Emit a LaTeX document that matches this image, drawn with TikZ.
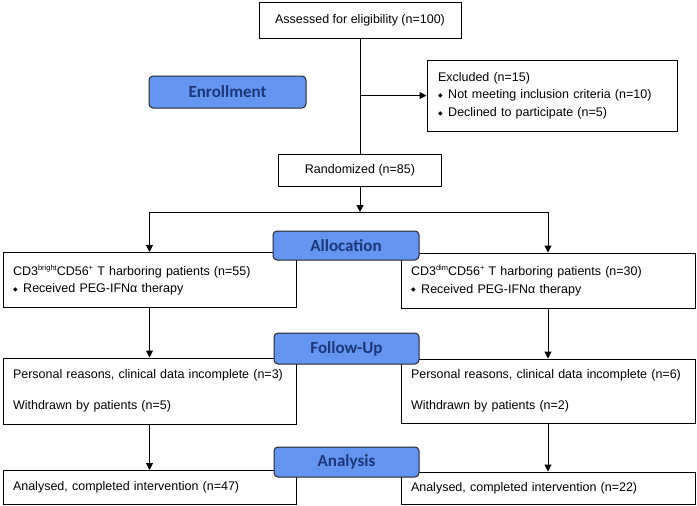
\documentclass[tikz,border=0pt]{standalone}
\usepackage{fontspec}
\setmainfont{Liberation Sans}
\newfontfamily\labelfont{Carlito}
\newfontfamily\dejavu{DejaVu Sans}
\usetikzlibrary{arrows.meta}
\definecolor{lblfill}{RGB}{100,149,240}
\definecolor{lbltext}{RGB}{28,55,120}
\newcommand{\bul}{{\dejavu\fontsize{6}{6}\selectfont\raisebox{0.2em}{◆}}\hspace{0.45em}}
\newcommand{\sups}[1]{\raisebox{0.4em}{\fontsize{7.5}{7.5}\selectfont #1}}
\begin{document}
\begin{tikzpicture}[x=1pt,y=-1pt,
  box/.style={draw,line width=1pt,inner sep=0pt,fill=white,
    font=\fontsize{12.5}{17.5}\selectfont},
  lbox/.style={box,align=left,inner xsep=10pt,text width=#1-20pt,minimum width=#1},
  cbox/.style={box,align=center,minimum width=#1},
  phase/.style={draw=black!85,line width=1pt,rounded corners=4pt,fill=lblfill,
    text=lbltext,font=\labelfont\bfseries\fontsize{17}{17}\selectfont,inner sep=0pt},
  conn/.style={line width=1pt},
  arr/.style={conn,-{Triangle[length=7pt,width=7pt]}}
]
\useasboundingbox (0,0) rectangle (697,506);

\node[cbox=202pt,minimum height=36pt] (assess) at (360,20) {Assessed for eligibility (n=100)};
\node[lbox=250pt,minimum height=71pt,inner xsep=11pt,text width=228pt] (excl) at (552,95.5)
  {Excluded (n=15)\\ \bul Not meeting inclusion criteria (n=10)\\ \bul Declined to participate (n=5)};
\node[cbox=163pt,minimum height=32pt] (rand) at (360,170) {Randomized (n=85)};

\node[lbox=293pt,minimum height=55pt] (L1) at (149.5,280)
  {CD3\sups{bright}CD56\sups{+} T harboring patients (n=55)\\ \bul Received PEG-IFNα therapy};
\node[lbox=294pt,minimum height=55pt] (R1) at (548,280.5)
  {CD3\sups{dim}CD56\sups{+} T harboring patients (n=30)\\ \bul Received PEG-IFNα therapy};

\node[lbox=293pt,minimum height=66pt] (L2) at (149.5,391)
  {Personal reasons, clinical data incomplete (n=3)\\[13pt] Withdrawn by patients (n=5)};
\node[lbox=294pt,minimum height=64pt] (R2) at (548,391)
  {Personal reasons, clinical data incomplete (n=6)\\[13pt] Withdrawn by patients (n=2)};

\node[lbox=293pt,minimum height=34pt] (L3) at (149.5,487.5) {Analysed, completed intervention (n=47)};
\node[lbox=294pt,minimum height=32pt] (R3) at (548,488) {Analysed, completed intervention (n=22)};

\coordinate (ex) at (assess.south |- excl.west);
\coordinate (split) at (360,212);
\draw[conn] (assess.south) -- (rand.north);
\draw[arr] (ex) -- (excl.west);
\draw[arr] (rand.south) -- (split);
\draw[arr] (split) -| (L1.north);
\draw[arr] (split) -| (R1.north);
\draw[arr] (L1.south) -- (L2.north);
\draw[arr] (R1.south) -- (R2.north);
\draw[arr] (L2.south) -- (L3.north);
\draw[arr] (R2.south) -- (R3.north);

\node[phase,minimum width=157pt,minimum height=32pt] (enroll) at (227.5,92) {Enrollment};
\node[phase,minimum width=146pt,minimum height=29pt] (alloc) at (346,245.5) {Allocation};
\node[phase,minimum width=145pt,minimum height=31pt] (follow) at (346.5,348.5) {Follow-Up};
\node[phase,minimum width=145pt,minimum height=30pt] (analysis) at (346.5,462) {Analysis};
\end{tikzpicture}
\end{document}
